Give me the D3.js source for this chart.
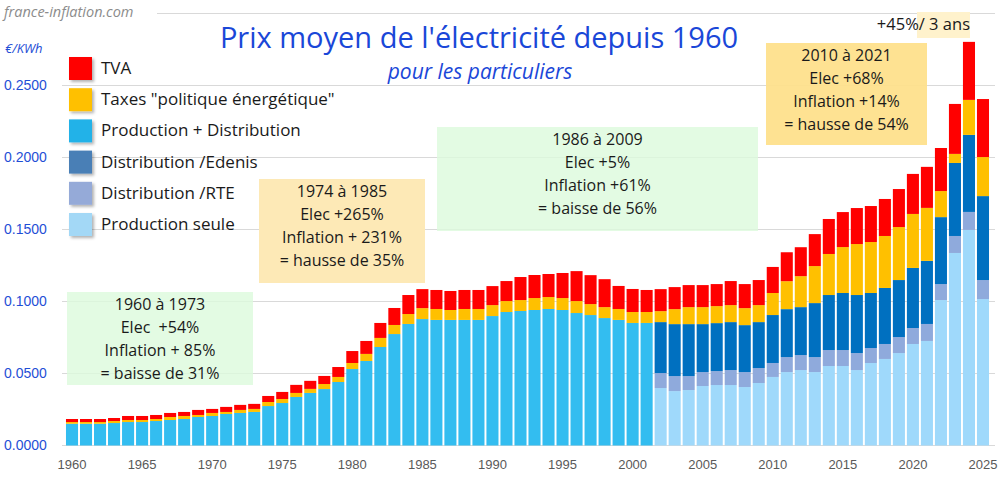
<!DOCTYPE html>
<html>
<head>
<meta charset="utf-8">
<script src="https://cdn.jsdelivr.net/npm/d3@7"></script>
<style>
  body { margin: 0; background: #fff; }
  svg { display: block; font-family: "Open Sans", "Liberation Sans", Arial, sans-serif; }
  .num { font-family: "Liberation Sans", Arial, sans-serif; }
</style>
</head>
<body>
<div id="chart"></div>
<script>
// annees 1960 -> 2025
const years = d3.range(1960, 2026);
const splitYear = 2002; // debut du decoupage Edenis / RTE / production seule

// TVA, 1960-2025
const tva = [
  0.0021,0.0021,0.0021,0.0021,0.0028,0.0028,0.0028,0.0028,0.0028,0.0035,
  0.0028,0.0035,0.0035,0.0035,0.0042,0.0049,0.0056,0.0056,0.0056,0.0069,
  0.0083,0.0090,0.0104,0.0118,0.0132,0.0132,0.0132,0.0132,0.0132,0.0132,
  0.0132,0.0139,0.0160,0.0160,0.0160,0.0174,0.0208,0.0201,0.0194,0.0160,
  0.0160,0.0153,
  0.0153,0.0153,0.0153,0.0153,0.0153,0.0167,0.0167,0.0174,0.0181,0.0201,
  0.0201,0.0222,0.0243,0.0243,0.0250,0.0250,0.0257,0.0264,0.0278,0.0285,
  0.0299,0.0347,0.0403,0.0403
];
// taxes "politique energetique", 1960-2025
const taxes = [
  0.0012,0.0012,0.0012,0.0014,0.0014,0.0014,0.0014,0.0021,0.0021,0.0014,
  0.0021,0.0014,0.0021,0.0021,0.0028,0.0028,0.0028,0.0028,0.0035,0.0035,
  0.0042,0.0049,0.0063,0.0063,0.0069,0.0076,0.0076,0.0069,0.0076,0.0076,
  0.0076,0.0076,0.0076,0.0083,0.0083,0.0083,0.0083,0.0076,0.0076,0.0076,
  0.0076,0.0076,
  0.0076,0.0104,0.0118,0.0118,0.0118,0.0118,0.0118,0.0118,0.0153,0.0194,
  0.0215,0.0257,0.0285,0.0319,0.0354,0.0354,0.0361,0.0368,0.0375,0.0368,
  0.0181,0.0063,0.0243,0.0271
];
// production + distribution, 1960-2001
const prodDist = [
  0.0151,0.0151,0.0151,0.0156,0.0163,0.0163,0.0170,0.0177,0.0184,0.0198,
  0.0205,0.0219,0.0226,0.0233,0.0274,0.0295,0.0337,0.0365,0.0392,0.0441,
  0.0531,0.0587,0.0684,0.0774,0.0844,0.0878,0.0872,0.0872,0.0872,0.0872,
  0.0899,0.0927,0.0934,0.0941,0.0948,0.0941,0.0920,0.0906,0.0885,0.0872,
  0.0851,0.0851
];
// 2002-2025
const edenis = [
  0.0354,0.0361,0.0361,0.0333,0.0333,0.0333,0.0326,0.0319,0.0333,0.0333,
  0.0333,0.0375,0.0382,0.0396,0.0403,0.0382,0.0389,0.0396,0.0417,0.0438,
  0.0465,0.0507,0.0535,0.0583
];
const rte = [
  0.0104,0.0104,0.0097,0.0097,0.0097,0.0104,0.0104,0.0104,0.0097,0.0104,
  0.0104,0.0104,0.0111,0.0111,0.0118,0.0104,0.0104,0.0111,0.0111,0.0118,
  0.0111,0.0118,0.0125,0.0132
];
const seule = [
  0.0399,0.0378,0.0385,0.0413,0.0420,0.0420,0.0406,0.0434,0.0476,0.0510,
  0.0524,0.0510,0.0552,0.0552,0.0524,0.0573,0.0601,0.0642,0.0705,0.0726,
  0.1010,0.1337,0.1497,0.1017
];

const yTicks = [0, 0.05, 0.10, 0.15, 0.20, 0.25];
const xTicks = [1960, 1965, 1970, 1975, 1980, 1985, 1990, 1995, 2000, 2005, 2010, 2015, 2020, 2025];

const series = [
  { key: "seule",    label: "Production seule",                color: "#9fd9fb", legend: "#a3d8f6" },
  { key: "rte",      label: "Distribution /RTE",               color: "#8faadc", legend: "#95aad8" },
  { key: "edenis",   label: "Distribution /Edenis",            color: "#0070c0", legend: "#4a7fb6" },
  { key: "prodDist", label: "Production + Distribution",       color: "#33bdf0", legend: "#22b2e8" },
  { key: "taxes",    label: "Taxes \"politique énergétique\"", color: "#ffc000", legend: "#ffc000" },
  { key: "tva",      label: "TVA",                             color: "#ff0000", legend: "#ff0000" }
];

const notes = [
  { x0: 67,  x1: 253, y0: 292, y1: 385, fill: "#dcfadc", op: 0.8,
    lines: ["1960 à 1973", "Elec  +54%", "Inflation + 85%", "= baisse de 31%"] },
  { x0: 259, x1: 425, y0: 179, y1: 283, fill: "#fde9b6", op: 1,
    lines: ["1974 à 1985", "Elec +265%", "Inflation + 231%", "= hausse de 35%"] },
  { x0: 437, x1: 758, y0: 127, y1: 231, fill: "#dcfadc", op: 0.8,
    lines: ["1986 à 2009", "Elec +5%", "Inflation +61%", "= baisse de 56%"] },
  { x0: 766, x1: 927, y0: 43,  y1: 145, fill: "#fee08c", op: 0.95,
    lines: ["2010 à 2021", "Elec +68%", "Inflation +14%", "= hausse de 54%"] }
];

const table = years.map((yr, i) => {
  const late = yr >= splitYear, j = i - (splitYear - 1960);
  return {
    year: yr,
    tva: tva[i],
    taxes: taxes[i],
    prodDist: late ? 0 : prodDist[i],
    edenis: late ? edenis[j] : 0,
    rte: late ? rte[j] : 0,
    seule: late ? seule[j] : 0
  };
});

const width = 1000, height = 480;

const svg = d3.select("#chart").append("svg")
  .attr("width", width).attr("height", height);

const defs = svg.append("defs");
defs.append("filter").attr("id", "shadow")
  .attr("x", "-20%").attr("y", "-20%").attr("width", "160%").attr("height", "160%")
  .append("feDropShadow")
  .attr("dx", 2).attr("dy", 2).attr("stdDeviation", 1.5)
  .attr("flood-color", "#000").attr("flood-opacity", 0.3);

const x = d3.scaleBand().domain(years).range([65, 990])
  .paddingInner(0.14).paddingOuter(0.07);
const y = d3.scaleLinear().domain([0, 0.3]).range([445.5, 13.5]);

// grille
svg.append("g").selectAll("line")
  .data(yTicks.concat([0.3]))
  .join("line")
  .attr("x1", d => d === 0.3 ? 157 : 62).attr("x2", 995)
  .attr("y1", d => y(d)).attr("y2", d => y(d))
  .attr("stroke", "#d9d9d9").attr("stroke-width", 1);

// axe y
const yAxis = svg.append("g")
  .call(d3.axisLeft(y).tickValues(yTicks).tickFormat(d3.format(".4f")).tickSize(0));
yAxis.select(".domain").remove();
yAxis.selectAll("text")
  .attr("class", "num")
  .attr("x", 4).attr("text-anchor", "start")
  .attr("fill", "#1f4fd6").style("font-size", "14px");

// axe x
const xAxis = svg.append("g").attr("transform", `translate(0,${y(0)})`)
  .call(d3.axisBottom(x).tickValues(xTicks).tickSize(0).tickPadding(14));
xAxis.select(".domain").remove();
xAxis.selectAll("text")
  .attr("class", "num")
  .attr("fill", "#595959").style("font-size", "13px");

// barres empilees
const stack = d3.stack().keys(series.map(s => s.key))(table);
svg.append("g").selectAll("g")
  .data(stack)
  .join("g")
  .attr("fill", (d, i) => series[i].color)
  .selectAll("rect")
  .data(d => d.filter(p => p[1] > p[0]))
  .join("rect")
  .attr("x", d => x(d.data.year))
  .attr("width", x.bandwidth())
  .attr("y", d => y(d[1]))
  .attr("height", d => y(d[0]) - y(d[1]));

// encadres
const note = svg.append("g").selectAll("g").data(notes).join("g");
note.append("rect")
  .attr("x", d => d.x0).attr("y", d => d.y0)
  .attr("width", d => d.x1 - d.x0).attr("height", d => d.y1 - d.y0)
  .attr("fill", d => d.fill).attr("fill-opacity", d => d.op);
note.each(function (d) {
  const cx = (d.x0 + d.x1) / 2;
  d3.select(this).selectAll("text").data(d.lines).join("text")
    .attr("x", cx).attr("y", (t, i) => d.y0 + 18 + i * 23)
    .attr("text-anchor", "middle")
    .attr("fill", "#1a1a1a").style("font-size", "16px")
    .style("white-space", "pre")
    .text(t => t);
});

// +45% / 3 ans
svg.append("rect").attr("x", 917).attr("y", 12).attr("width", 53).attr("height", 26)
  .attr("fill", "#fff2cc");
svg.append("text").attr("x", 970).attr("y", 30).attr("text-anchor", "end")
  .attr("fill", "#1a1a1a").style("font-size", "16.5px").text("+45%/ 3 ans");

// legende
const legend = svg.append("g").selectAll("g")
  .data(series.slice().reverse())
  .join("g")
  .attr("transform", (d, i) => `translate(69,${57 + i * 31.2})`);
legend.append("rect").attr("width", 23).attr("height", 23)
  .attr("fill", d => d.legend).attr("filter", "url(#shadow)");
legend.append("text").attr("x", 32).attr("y", 17)
  .attr("fill", "#1a1a1a").style("font-size", "17px").text(d => d.label);

// titres
svg.append("rect").attr("x", 0).attr("y", 0).attr("width", 152).attr("height", 24).attr("fill", "#fff");
svg.append("text").attr("x", 4).attr("y", 17)
  .attr("fill", "#8c8c8c").style("font-size", "14.5px").style("font-style", "italic")
  .text("france-inflation.com");
svg.append("text").attr("x", 5).attr("y", 53)
  .attr("fill", "#1f4fd6").style("font-size", "13px").style("font-style", "italic")
  .text("€/KWh");
svg.append("text").attr("x", 479).attr("y", 48).attr("text-anchor", "middle")
  .attr("fill", "#1a47d8").style("font-size", "29px")
  .text("Prix moyen de l'électricité depuis 1960");
svg.append("text").attr("x", 480).attr("y", 79).attr("text-anchor", "middle")
  .attr("fill", "#1a47d8").style("font-size", "21px").style("font-style", "italic")
  .text("pour les particuliers");
</script>
</body>
</html>
